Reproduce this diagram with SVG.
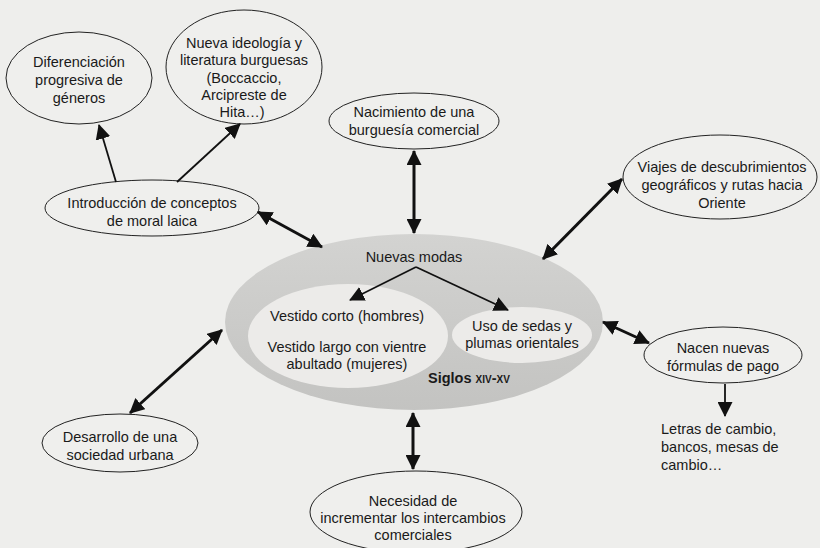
<svg xmlns="http://www.w3.org/2000/svg" width="820" height="548" viewBox="0 0 820 548">
<style>
.bg{fill:#eeeeec}
.node{fill:#efefed;stroke:#222;stroke-width:1}
.t{font-family:"Liberation Sans",Arial,sans-serif;font-size:14.5px;fill:#1a1a1a;text-anchor:middle}
.tl{text-anchor:start}
.b{font-weight:bold}
.ring{fill:url(#ringGrad)}
.inner{fill:#ecebe9}
.c2{stroke:#111;stroke-width:3;fill:none;marker-start:url(#ah);marker-end:url(#ah)}
.c1{stroke:#111;stroke-width:1.8;fill:none;marker-end:url(#ah)}
</style>
<defs>
<linearGradient id="ringGrad" x1="0" y1="0" x2="0" y2="1">
<stop offset="0" stop-color="#d3d3d1"/>
<stop offset="1" stop-color="#c3c3c1"/>
</linearGradient>
<marker id="ah" markerUnits="userSpaceOnUse" markerWidth="15" markerHeight="15" refX="14" refY="7.5" orient="auto-start-reverse" viewBox="0 0 15 15">
<path d="M0,0 L15,7.5 L0,15 z" fill="#111"/>
</marker>
</defs>
<rect class="bg" x="0" y="0" width="820" height="548"/>

<g id="centro">
<ellipse class="ring" cx="414" cy="322" rx="189" ry="88"/>
<ellipse class="inner" cx="348" cy="336" rx="100" ry="52"/>
<ellipse class="inner" cx="522" cy="335" rx="70" ry="28"/>
<text class="t" x="414" y="262">Nuevas modas</text>
<text class="t" x="347" y="321">Vestido corto (hombres)</text>
<text class="t" x="347" y="352">Vestido largo con vientre</text>
<text class="t" x="347" y="369">abultado (mujeres)</text>
<text class="t" x="522" y="331">Uso de sedas y</text>
<text class="t" x="522" y="348">plumas orientales</text>
<text class="t b tl" x="428" y="383">Siglos <tspan font-variant="small-caps">xiv-xv</tspan></text>
</g>

<g id="diferenciacion">
<ellipse class="node" cx="79" cy="78" rx="73" ry="46"/>
<text class="t" x="79" y="67">Diferenciación</text>
<text class="t" x="79" y="85">progresiva de</text>
<text class="t" x="79" y="103">géneros</text>
</g>

<g id="ideologia">
<ellipse class="node" cx="244" cy="67" rx="78" ry="57"/>
<text class="t" x="244" y="48">Nueva ideología y</text>
<text class="t" x="244" y="65">literatura burguesas</text>
<text class="t" x="244" y="83">(Boccaccio,</text>
<text class="t" x="244" y="100">Arcipreste de</text>
<text class="t" x="242" y="117">Hita…)</text>
</g>

<g id="introduccion">
<ellipse class="node" cx="152" cy="208" rx="107" ry="28"/>
<text class="t" x="152" y="208">Introducción de conceptos</text>
<text class="t" x="152" y="226">de moral laica</text>
</g>

<g id="nacimiento">
<ellipse class="node" cx="414" cy="121" rx="85" ry="28"/>
<text class="t" x="414" y="117">Nacimiento de una</text>
<text class="t" x="414" y="135">burguesía comercial</text>
</g>

<g id="viajes">
<ellipse class="node" cx="720" cy="177" rx="97" ry="42"/>
<text class="t" x="722" y="172">Viajes de descubrimientos</text>
<text class="t" x="722" y="190">geográficos y rutas hacia</text>
<text class="t" x="722" y="208">Oriente</text>
</g>

<g id="pago">
<ellipse class="node" cx="723" cy="355" rx="79" ry="28"/>
<text class="t" x="723" y="353">Nacen nuevas</text>
<text class="t" x="723" y="371">fórmulas de pago</text>
</g>

<g id="letras">
<text class="t tl" x="661" y="434">Letras de cambio,</text>
<text class="t tl" x="661" y="452">bancos, mesas de</text>
<text class="t tl" x="661" y="470">cambio…</text>
</g>

<g id="desarrollo">
<ellipse class="node" cx="120" cy="443" rx="78" ry="29"/>
<text class="t" x="120" y="442">Desarrollo de una</text>
<text class="t" x="120" y="460">sociedad urbana</text>
</g>

<g id="necesidad">
<ellipse class="node" cx="416" cy="512" rx="106" ry="41"/>
<text class="t" x="413" y="506">Necesidad de</text>
<text class="t" x="413" y="523">incrementar los intercambios</text>
<text class="t" x="413" y="540">comerciales</text>
</g>

<g id="conectores">
<line class="c1" x1="416" y1="267" x2="350" y2="300"/>
<line class="c1" x1="416" y1="267" x2="508" y2="310"/>
<line class="c1" x1="116" y1="182" x2="99" y2="125"/>
<line class="c1" x1="177" y1="182" x2="240" y2="124"/>
<line class="c2" x1="258" y1="212" x2="322" y2="247"/>
<line class="c2" x1="414" y1="151" x2="414" y2="233"/>
<line class="c2" x1="543" y1="259" x2="622" y2="179"/>
<line class="c2" x1="603" y1="322" x2="649" y2="343"/>
<line class="c1" x1="725" y1="384" x2="725" y2="416"/>
<line class="c2" x1="130" y1="413" x2="222" y2="330"/>
<line class="c2" x1="413" y1="413" x2="413" y2="469"/>
</g>
</svg>
